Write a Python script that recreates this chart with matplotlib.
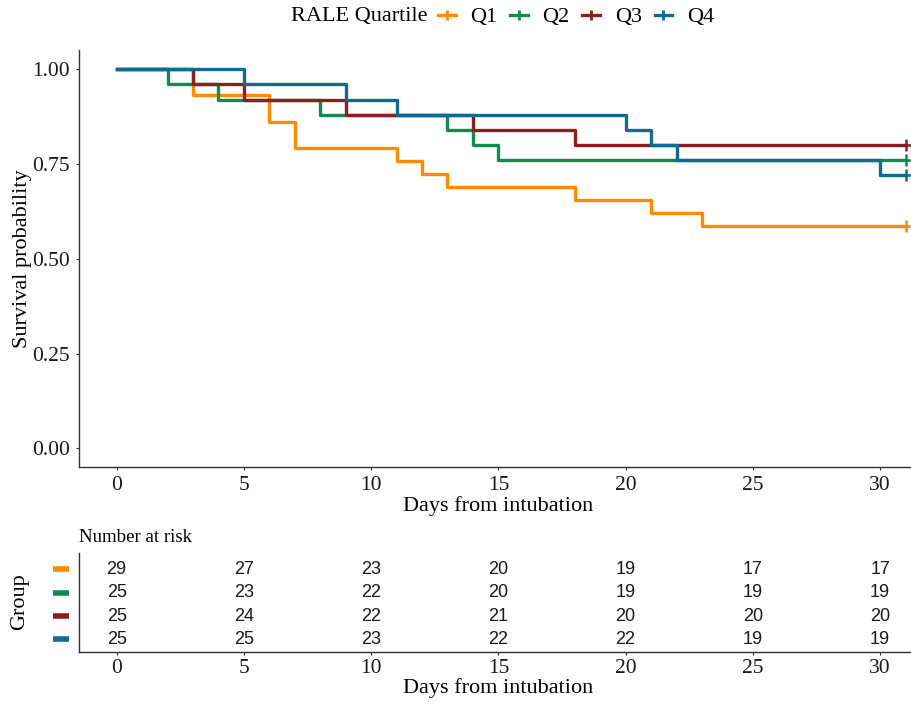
"""Kaplan-Meier survival by RALE quartile, with a number-at-risk table."""

import matplotlib

matplotlib.use("Agg")
import matplotlib.pyplot as plt
import matplotlib.transforms as mtransforms
from matplotlib.lines import Line2D

SERIF = "Liberation Serif"
SANS = "Liberation Sans"

groups = ["Q1", "Q2", "Q3", "Q4"]
colors = ["#FF8C00", "#118C4E", "#8B1E1E", "#0F6A94"]

# step curves (time, survival)
q1_times = [0, 3, 6, 7, 11, 12, 13, 18, 21, 23, 31]
q1_surv = [1.0, 0.931, 0.862, 0.793, 0.759, 0.724, 0.690, 0.655, 0.621, 0.586, 0.586]
q2_times = [0, 2, 4, 8, 13, 14, 15, 31]
q2_surv = [1.0, 0.96, 0.92, 0.88, 0.84, 0.80, 0.76, 0.76]
q3_times = [0, 3, 5, 9, 14, 18, 31]
q3_surv = [1.0, 0.96, 0.92, 0.88, 0.84, 0.80, 0.80]
q4_times = [0, 5, 9, 11, 20, 21, 22, 30, 31]
q4_surv = [1.0, 0.96, 0.92, 0.88, 0.84, 0.80, 0.76, 0.72, 0.72]

risk_times = [0, 5, 10, 15, 20, 25, 30]
q1_risk = [29, 27, 23, 20, 19, 17, 17]
q2_risk = [25, 23, 22, 20, 19, 19, 19]
q3_risk = [25, 24, 22, 21, 20, 20, 20]
q4_risk = [25, 25, 23, 22, 22, 19, 19]

y_ticks = [0.0, 0.25, 0.50, 0.75, 1.0]
x_ticks = [0, 5, 10, 15, 20, 25, 30]

curves = [(q1_times, q1_surv), (q2_times, q2_surv),
          (q3_times, q3_surv), (q4_times, q4_surv)]
risks = [q1_risk, q2_risk, q3_risk, q4_risk]

W, H = 911, 704
fig = plt.figure(figsize=(W / 100, H / 100), dpi=100)

X0, X1 = 79, 917  # panel left/right in pixels
XLIM = (-1.48, 31.45)


def style_axis(ax):
    for side in ("top", "right"):
        ax.spines[side].set_visible(False)
    for side in ("left", "bottom"):
        ax.spines[side].set_color("#333333")
        ax.spines[side].set_linewidth(1.0)
    ax.tick_params(length=2.5, width=0.8, color="#333333", pad=4,
                   labelsize=15.5, labelcolor="#1a1a1a")
    for lab in ax.get_xticklabels() + ax.get_yticklabels():
        lab.set_family(SERIF)


# ---- survival curves ----
ax = fig.add_axes([X0 / W, 1 - 467.3 / H, (X1 - X0) / W, (467.3 - 50.35) / H])
for (t, s), c in zip(curves, colors):
    ax.step(t, s, where="post", color=c, lw=2.4)
    ax.plot(t[-1], s[-1], marker="+", color=c, ms=9, mew=1.8)
ax.set_xlim(*XLIM)
ax.set_ylim(-0.05, 1.05)
ax.set_xticks(x_ticks)
ax.set_yticks(y_ticks)
ax.set_yticklabels([f"{v:.2f}" for v in y_ticks])
style_axis(ax)
ax.set_xlabel("Days from intubation", family=SERIF, fontsize=16)
ax.xaxis.set_label_coords(0.5, -0.068)
ax.set_ylabel("Survival probability", family=SERIF, fontsize=16)
ax.yaxis.set_label_coords(-0.056, 0.5)

# legend across the top
fig.text(291 / W, 1 - 17 / H, "RALE Quartile", family=SERIF, fontsize=16,
         ha="left", va="center")
handles = [Line2D([0], [0], color=c, lw=2.4, marker="|", ms=7, mew=2)
           for c in colors]
fig.legend(handles, groups, loc="center left", bbox_to_anchor=(438 / W, 1 - 17 / H),
           ncol=4, frameon=False, handlelength=0.8, handletextpad=0.65,
           columnspacing=0.58, borderpad=0, borderaxespad=0,
           prop={"family": SERIF, "size": 16})

# ---- number at risk table ----
tab = fig.add_axes([X0 / W, 1 - 651.7 / H, (X1 - X0) / W, (651.7 - 553.3) / H])
rows = [4, 3, 2, 1]
for r, c, counts in zip(rows, colors, risks):
    for t, n in zip(risk_times, counts):
        tab.text(t, r, str(n), ha="center", va="center", family=SANS,
                 fontsize=13, color="#1a1a1a")
    trans = mtransforms.blended_transform_factory(tab.transAxes, tab.transData)
    tab.plot([(53 - X0) / (X1 - X0), (69 - X0) / (X1 - X0)], [r, r],
             transform=trans, color=c, lw=4, solid_capstyle="butt", clip_on=False)
tab.set_xlim(*XLIM)
tab.set_ylim(0.47, 4.69)
tab.set_xticks(x_ticks)
tab.set_yticks([])
style_axis(tab)
tab.tick_params(axis="x", pad=3)
tab.set_xlabel("Days from intubation", family=SERIF, fontsize=16)
tab.xaxis.set_label_coords(0.5, -0.27)

fig.text(X0 / W, 1 - 537 / H, "Number at risk", family=SERIF, fontsize=13.6,
         ha="left", va="center")
fig.text(20 / W, 1 - 602 / H, "Group", family=SERIF, fontsize=16,
         rotation=90, ha="center", va="center")

fig.savefig("out.png", dpi=100)
